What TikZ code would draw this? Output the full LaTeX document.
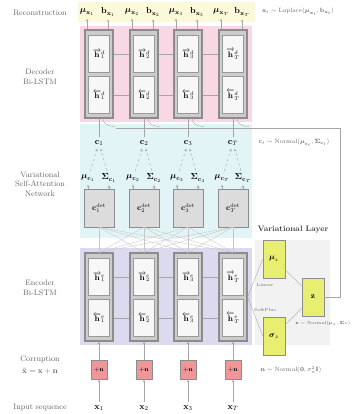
\documentclass[tikz,border=0pt]{standalone}
\usepackage{amsmath,amssymb}
\usepackage{tikz}
\usetikzlibrary{positioning}

\definecolor{reconbg}{RGB}{250,250,218}
\definecolor{decbg}{RGB}{248,216,228}
\definecolor{attbg}{RGB}{226,244,246}
\definecolor{encbg}{RGB}{220,218,238}
\definecolor{varbg}{RGB}{242,242,242}
\definecolor{varfill}{RGB}{232,238,112}
\definecolor{noisefill}{RGB}{238,150,152}
\definecolor{attfill}{RGB}{220,220,220}

\begin{document}
\begin{tikzpicture}[x=0.4mm,y=-0.4mm,>=stealth,
  outerbox/.style={draw=gray!90,line width=1.4pt,fill=gray!40,minimum width=11.2mm,minimum height=35.2mm,inner sep=0},
  cellbox/.style={draw=gray!80,fill=gray!6,minimum width=8.4mm,minimum height=14.8mm,inner sep=0,font=\small},
  attbox/.style={draw=gray!90,fill=attfill,minimum width=12mm,minimum height=15.2mm,inner sep=0,font=\small},
  varbox/.style={draw=gray!90,fill=varfill,minimum width=8.8mm,minimum height=15.2mm,inner sep=0,font=\small},
  noisebox/.style={draw=gray!90,fill=noisefill,minimum width=6.4mm,minimum height=7.6mm,inner sep=0,font=\scriptsize},
  rowlabel/.style={align=center,text=black!60,font=\small},
  distlabel/.style={text=black!60,font=\scriptsize},
  link/.style={draw=gray!70,thin}]
\useasboundingbox (0,0) rectangle (355,414);

% backgrounds
\fill[reconbg] (78,2) rectangle (255,22);
\fill[decbg] (80,26) rectangle (252,122);
\fill[attbg] (80,124) rectangle (252,238);
\fill[encbg] (80,248) rectangle (252,345);
\fill[varbg] (255,240) rectangle (330,345);

% row labels
\node[rowlabel] (lrecon) at (40,13) {Reconstruction};
\node[rowlabel] (ldec) at (40,77) {Decoder\\Bi-LSTM};
\node[rowlabel] (latt) at (40,184) {Variational\\Self-Attention\\Network};
\node[rowlabel] (lenc) at (40,288) {Encoder\\Bi-LSTM};
\node[rowlabel] (lcor) at (40,365) {Corruption\\[3pt]$\tilde{\mathbf{x}}=\mathbf{x}+\mathbf{n}$};
\node[rowlabel] (linp) at (40,408) {Input sequence};

% columns
\foreach \i/\t/\x in {1/1/99,2/2/144,3/3/188,4/T/233} {
  \node (mux\i) at (\x-12,12) {$\boldsymbol{\mu}_{\mathbf{x}_{\t}}$};
  \node (bx\i) at (\x+9,12) {$\mathbf{b}_{\mathbf{x}_{\t}}$};
  \node[outerbox] (dec\i) at (\x,74) {};
  \node[cellbox] (decf\i) at (\x,54) {$\overrightarrow{\mathbf{h}}^{d}_{\t}$};
  \node[cellbox] (decb\i) at (\x,95) {$\overleftarrow{\mathbf{h}}^{d}_{\t}$};
  \node (c\i) at (\x,143) {$\mathbf{c}_{\t}$};
  \node (muc\i) at (\x-11,178) {$\boldsymbol{\mu}_{\mathbf{c}_{\t}}$};
  \node (sigc\i) at (\x+10,178) {$\boldsymbol{\Sigma}_{\mathbf{c}_{\t}}$};
  \node[attbox] (att\i) at (\x,208) {$\mathbf{c}^{\mathrm{det}}_{\t}$};
  \node[outerbox] (enc\i) at (\x,297) {};
  \node[cellbox] (encf\i) at (\x,277) {$\overrightarrow{\mathbf{h}}^{e}_{\t}$};
  \node[cellbox] (encb\i) at (\x,318) {$\overleftarrow{\mathbf{h}}^{e}_{\t}$};
  \node[noisebox] (noise\i) at (\x,370) {$+\mathbf{n}$};
  \node (x\i) at (\x,408) {$\mathbf{x}_{\t}$};
  \draw[link,->] (mux\i |- dec\i.north) -- (mux\i);
  \draw[link,->] (bx\i |- dec\i.north) -- (bx\i);
  \draw[link] (c\i) -- (dec\i);
  \draw[link,->,dashed] (muc\i) -- (c\i);
  \draw[link,->,dashed] (sigc\i) -- (c\i);
  \draw[link,->] (muc\i |- att\i.north) -- (muc\i);
  \draw[link,->] (sigc\i |- att\i.north) -- (sigc\i);
  \draw[link,->] (x\i) -- (noise\i);
  \draw[link,->] (noise\i) -- (enc\i);
}

% recurrent links
\foreach \i/\j in {1/2,2/3,3/4} {
  \draw[link] (dec\i.east |- decf\i) -- (dec\j.west |- decf\j);
  \draw[link] (dec\i.east |- decb\i) -- (dec\j.west |- decb\j);
  \draw[link] (enc\i.east |- encf\i) -- (enc\j.west |- encf\j);
  \draw[link] (enc\i.east |- encb\i) -- (enc\j.west |- encb\j);
}

% attention
\foreach \i in {1,2,3,4}
  \foreach \j in {1,2,3,4}
    \draw[link,draw=gray!45] (enc\i.north) -- (att\j.south);

% variational layer
\node[font=\small\bfseries,text=black!75] (vartitle) at (293,230) {Variational Layer};
\node[varbox] (muz) at (274,259) {$\boldsymbol{\mu}_{z}$};
\node[varbox] (sigz) at (274,336) {$\boldsymbol{\sigma}_{z}$};
\node[varbox] (z) at (313,297) {$\mathbf{z}$};
\draw[link] (enc4.east) -- (muz.west);
\draw[link] (enc4.east) -- (sigz.west);
\node[font=\tiny,text=black!60] (linear) at (265,285) {Linear};
\node[font=\tiny,text=black!60] (softplus) at (265,310) {SoftPlus};
\draw[link] (muz) -- (z);
\draw[link] (sigz) -- (z);
\coordinate (zbus) at (340,128);
\coordinate (zend) at (116,128);
\draw[link] (z.east) -| (zbus) -- (zend);
\foreach \i in {1,2,3,4}
  \draw[link] ([xshift=1.6mm]dec\i.south) to[out=-90,in=180] ++(12,8);

% distributions
\node[distlabel] (xdist) at (298,12) {$\mathbf{x}_t\sim\mathrm{Laplace}(\boldsymbol{\mu}_{\mathbf{x}_t},\mathbf{b}_{\mathbf{x}_t})$};
\node[distlabel] (cdist) at (294,143) {$\mathbf{c}_t\sim\mathrm{Normal}(\boldsymbol{\mu}_{\mathbf{c}_t},\boldsymbol{\Sigma}_{\mathbf{c}_t})$};
\node[distlabel,font=\tiny] (zdist) at (323,323) {$\mathbf{z}\sim\mathrm{Normal}(\boldsymbol{\mu}_{z},\boldsymbol{\Sigma}_{z})$};
\node[distlabel] (ndist) at (291,370) {$\mathbf{n}\sim\mathrm{Normal}(\mathbf{0},\sigma_n^2\mathbf{I})$};
\end{tikzpicture}
\end{document}
